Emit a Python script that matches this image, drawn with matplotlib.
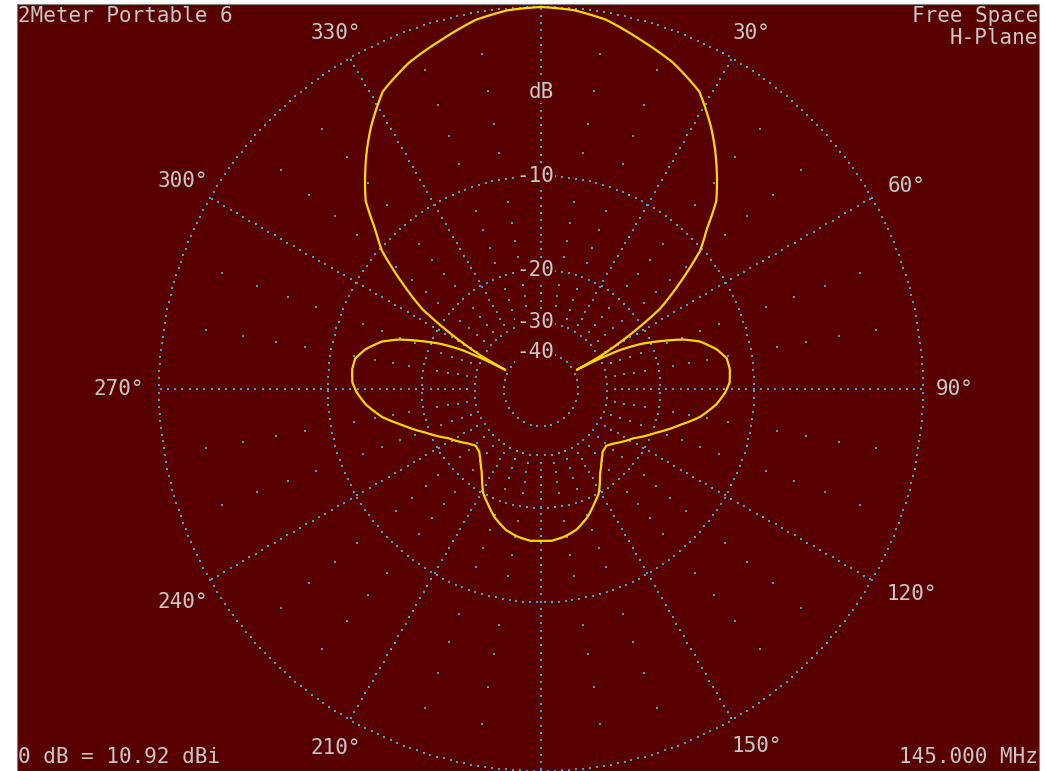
import numpy as np
import matplotlib
matplotlib.use('Agg')
import matplotlib.pyplot as plt
from matplotlib.patches import Rectangle

# Azimuth pattern, degrees clockwise from north, gain in dB relative to max
azimuth = [0, 5, 10, 16, 22, 28, 33, 36, 39, 43, 46, 49, 51, 53, 56, 58, 60, 61,
           61.8, 62.6, 63.7, 65.6, 68.5, 70.8, 73.4, 77.3, 80.6, 84, 88, 91, 95,
           100, 104.5, 110.7, 118, 127, 131, 135.5, 139.5, 145, 151, 155, 160,
           166, 171, 176, 180,
           184, 189, 194, 200, 205, 209, 215, 220.5, 224.5, 229, 233, 242, 249.3,
           255.5, 260, 265, 269, 272, 276, 279.4, 282.7, 286.6, 289.2, 291.5,
           294.4, 296.3, 297.4, 298.2, 299, 300, 302, 304, 307, 309, 311, 314,
           317, 321, 324, 327, 332, 338, 344, 350, 355, 360]
gain_db = [0.0, -0.08, -0.32, -0.88, -1.40, -2.15, -3.46, -4.37, -5.37, -6.8,
           -8.66, -10.2, -11.95, -13.8, -16.8, -20.8, -26.1, -29.5,
           -38.5, -30.5, -25.2, -21.6, -18.3, -16.0, -14.3, -12.9, -12.15, -12.0,
           -12.1, -12.5, -13.3, -14.8, -16.8, -19.4, -22.2, -24.7, -25.5, -25.2,
           -24.2, -22.5, -20.0, -19.0, -17.7, -16.6, -16.1, -15.8, -15.85,
           -15.8, -16.1, -16.6, -17.7, -19.0, -20.0, -22.5, -24.2, -25.2, -25.5,
           -24.7, -22.2, -19.4, -16.8, -14.8, -13.3, -12.5, -12.1, -12.0, -12.15,
           -12.9, -14.3, -16.0, -18.3, -21.6, -25.2, -30.5, -38.5, -29.5, -26.1,
           -20.8, -16.8, -13.8, -11.95, -10.2, -8.66, -6.8, -5.37, -4.37, -3.46,
           -2.15, -1.40, -0.88, -0.32, -0.08, 0.0]

ring_db = [0, -10, -20, -30, -40]
ring_labels = ['', '-10', '-20', '-30', '-40']
angle_labels = ['30°', '60°', '90°', '120°', '150°',
                '210°', '240°', '270°', '300°', '330°']
# label centres in pixels from the plot centre (x right, y up)
angle_label_xy = [(211, 356), (366, 203), (414, 0), (371, -205), (216, -357),
                  (-205, -359), (-358, -213), (-422, 0), (-358, 208), (-205, 356)]

BG = '#580000'
GRID = '#4a9bd4'
TXT = '#c8c8c8'
LINE = '#ffd800'
FONT = 'DejaVu Sans Mono'
R_PX = 382.0


def to_r(db):
    # ARRL log scale: 2 dB per 0.89 step
    return 0.89 ** (-np.asarray(db, dtype=float) / 2.0)


fig = plt.figure(figsize=(10.45, 7.71), dpi=100, facecolor='white')
fig.patches.append(Rectangle((17 / 1045, 0), (1039 - 17) / 1045, 767 / 771,
                             transform=fig.transFigure, facecolor=BG,
                             edgecolor='#808080', linewidth=0.8, zorder=-10))

ax = fig.add_axes([159 / 1045, 0, 764 / 1045, 764 / 771], projection='polar')
ax.set_theta_zero_location('N')
ax.set_theta_direction(-1)
ax.set_ylim(0, 1)
ax.set_axis_off()

dot = dict(linestyle='none', marker='s', markersize=1.5, markeredgewidth=0,
           color=GRID, clip_on=False, zorder=1)

# dotted rings
for db in ring_db:
    r = to_r(db)
    n = int(2 * np.pi * r * R_PX / 7.0)
    th = np.linspace(0, 2 * np.pi, n, endpoint=False)
    ax.plot(th, np.full(n, r), **dot)

# dotted spokes every 30 degrees
r_in = to_r(-30)
spoke_r = np.arange(r_in * R_PX + 7.3, R_PX, 7.3) / R_PX
for a in range(0, 360, 30):
    ax.plot(np.full(spoke_r.size, np.radians(a)), spoke_r, **dot)

# sparse 2 dB ticks on the 10 degree spokes
tick_db = [d for d in range(-2, -30, -2) if d % 10 != 0]
for a in range(0, 360, 10):
    if a % 30 == 0:
        continue
    ax.plot(np.full(len(tick_db), np.radians(a)), to_r(tick_db), **dot)

# pattern, drawn as arcs between samples in the polar frame
pattern, = ax.plot(np.radians(azimuth), to_r(gain_db), color=LINE,
                   linewidth=1.6, clip_on=False, zorder=3)
pattern.get_path()._interpolation_steps = 24

txt = dict(color=TXT, fontsize=15, family=FONT)
box = dict(facecolor=BG, edgecolor='none', pad=1)

# dB scale labels along the 0 degree spoke
for db, lab in zip(ring_db, ring_labels):
    if lab:
        ax.annotate(lab, xy=(0, to_r(db)), xytext=(13, 0),
                    textcoords='offset pixels', ha='right', va='center',
                    bbox=box, zorder=4, **txt)
ax.annotate('dB', xy=(0, 297 / R_PX), xytext=(13, 0),
            textcoords='offset pixels', ha='right', va='center',
            bbox=box, zorder=4, **txt)

# azimuth labels
for lab, (dx, dy) in zip(angle_labels, angle_label_xy):
    ax.annotate(lab, xy=(0, 0), xytext=(dx, dy), textcoords='offset pixels',
                ha='center', va='center', annotation_clip=False, **txt)

# corner annotations
fig.text(18 / 1045, 1 - 15.5 / 771, '2Meter Portable 6', ha='left', va='center', **txt)
fig.text(1038 / 1045, 1 - 16 / 771, 'Free Space', ha='right', va='center', **txt)
fig.text(1038 / 1045, 1 - 38.5 / 771, 'H-Plane', ha='right', va='center', **txt)
fig.text(18 / 1045, 1 - 757 / 771, '0 dB = 10.92 dBi', ha='left', va='center', **txt)
fig.text(1038 / 1045, 1 - 757 / 771, '145.000 MHz', ha='right', va='center', **txt)

fig.savefig('out.png', dpi=100, facecolor='white')
